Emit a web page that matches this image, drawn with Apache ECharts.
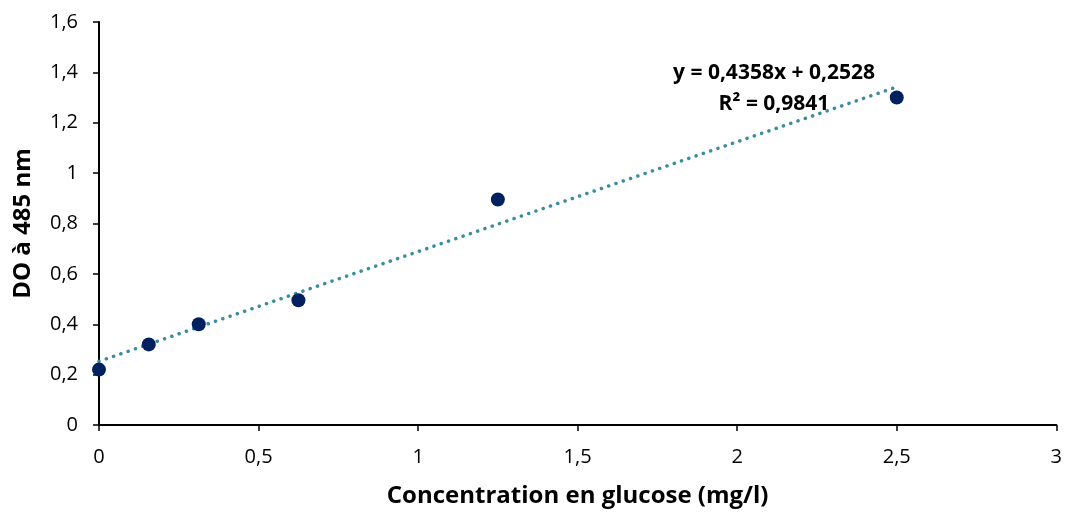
<!DOCTYPE html>
<html>
<head>
<meta charset="utf-8">
<script src="https://cdn.jsdelivr.net/npm/echarts@6/dist/echarts.min.js"></script>
<style>
  html, body { margin: 0; padding: 0; background: #fff; }
  #chart { width: 1065px; height: 513px; }
</style>
</head>
<body>
<div id="chart"></div>
<script>
// Glucose calibration: concentration (mg/l) vs optical density at 485 nm
const concentrations = [0, 0.156, 0.3125, 0.625, 1.25, 2.5];
const absorbances = [0.22, 0.32, 0.40, 0.495, 0.895, 1.30];

// Linear regression reported for the calibration
const slope = 0.4358;
const intercept = 0.2528;
const rSquared = 0.9841;

const xTicks = [0, 0.5, 1, 1.5, 2, 2.5, 3];
const yTicks = [0, 0.2, 0.4, 0.6, 0.8, 1, 1.2, 1.4, 1.6];

const fmt = (v, d) => (d === undefined ? String(v) : v.toFixed(d)).replace('.', ',');

const points = concentrations.map((c, i) => [c, absorbances[i]]);
const xFirst = concentrations[0];
const xLast = concentrations[concentrations.length - 1];
const trend = [
  [xFirst, intercept + slope * xFirst],
  [xLast, intercept + slope * xLast]
];

const FONT = '"Open Sans", Lato, sans-serif';
const chart = echarts.init(document.getElementById('chart'));

chart.setOption({
  animation: false,
  grid: { left: 99, right: 6, top: 22, bottom: 86, containLabel: false },
  xAxis: {
    type: 'value',
    min: xTicks[0],
    max: xTicks[xTicks.length - 1],
    interval: 0.5,
    name: 'Concentration en glucose (mg/l)',
    nameLocation: 'middle',
    nameGap: 59,
    nameTextStyle: { fontFamily: FONT, fontSize: 24, fontWeight: 'bold', color: '#000' },
    axisLine: { onZero: false, lineStyle: { color: '#000', width: 2 } },
    axisTick: { show: true, inside: false, length: 6, lineStyle: { color: '#000', width: 1.5 } },
    axisLabel: { fontFamily: FONT, fontSize: 20, color: '#000', margin: 22, formatter: v => fmt(v) },
    splitLine: { show: false }
  },
  yAxis: {
    type: 'value',
    min: yTicks[0],
    max: yTicks[yTicks.length - 1],
    interval: 0.2,
    name: 'DO à 485 nm',
    nameLocation: 'middle',
    nameGap: 64,
    nameRotate: 90,
    nameTextStyle: { fontFamily: FONT, fontSize: 24, fontWeight: 'bold', color: '#000' },
    axisLine: { show: true, onZero: false, lineStyle: { color: '#000', width: 2 } },
    axisTick: { show: true, inside: false, length: 6, lineStyle: { color: '#000', width: 1.5 } },
    axisLabel: {
      fontFamily: FONT, fontSize: 20, color: '#000', margin: 21,
      formatter: v => fmt(Math.round(v * 10) / 10)
    },
    splitLine: { show: false }
  },
  series: [
    {
      name: 'Tendance',
      type: 'line',
      data: trend,
      symbol: 'none',
      z: 2,
      lineStyle: { color: '#3A8CA0', width: 3.5, type: [0.1, 7.6], cap: 'round' }
    },
    {
      name: 'DO',
      type: 'scatter',
      data: points,
      symbol: 'circle',
      symbolSize: 14,
      z: 3,
      itemStyle: { color: '#002060', opacity: 1 }
    }
  ],
  graphic: [
    {
      type: 'text',
      x: 774, y: 73,
      style: {
        text: 'y = ' + fmt(slope) + 'x + ' + fmt(intercept),
        font: 'bold 21px ' + FONT, fill: '#000',
        align: 'center', verticalAlign: 'middle'
      }
    },
    {
      type: 'text',
      x: 774, y: 104,
      style: {
        text: 'R² = ' + fmt(rSquared),
        font: 'bold 21px ' + FONT, fill: '#000',
        align: 'center', verticalAlign: 'middle'
      }
    }
  ]
});
</script>
</body>
</html>
